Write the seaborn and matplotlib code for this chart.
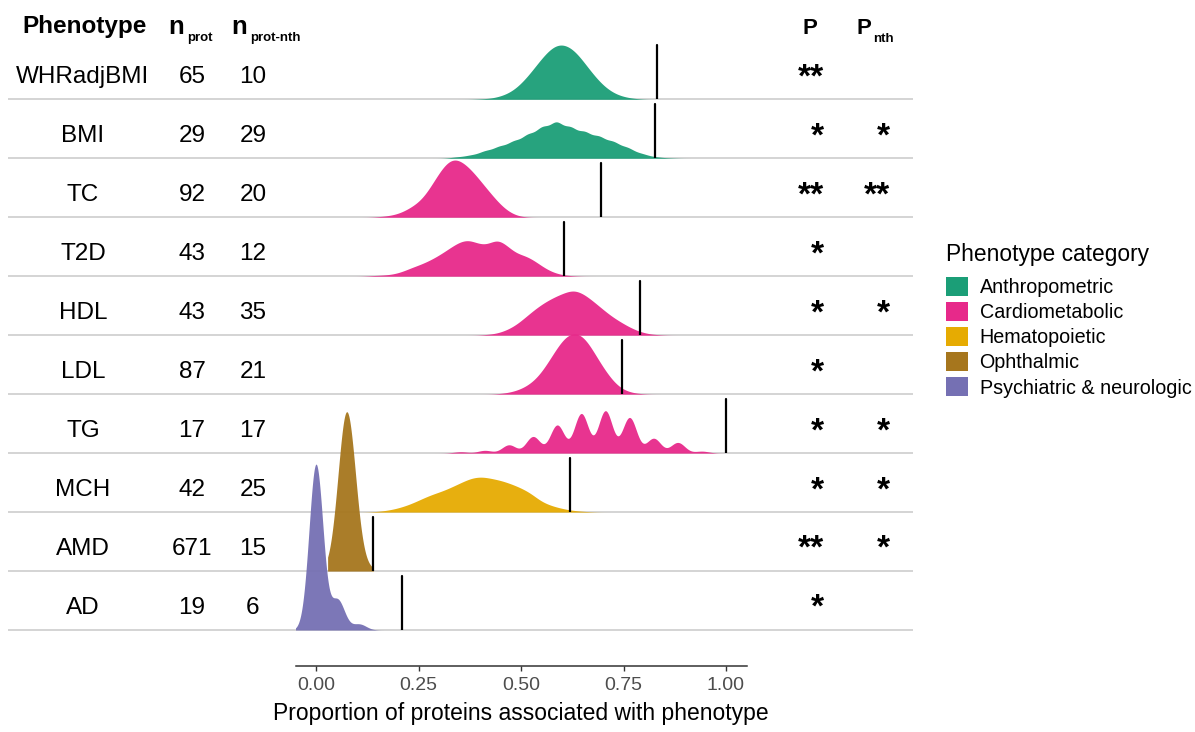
import numpy as np
import pandas as pd
import matplotlib
matplotlib.use("Agg")
import matplotlib.pyplot as plt
from matplotlib.patches import Patch
import seaborn as sns

# ---- table columns -------------------------------------------------------
phenotypes = ["WHRadjBMI", "BMI", "TC", "T2D", "HDL", "LDL", "TG", "MCH", "AMD", "AD"]
phenotype_category = ["Anthropometric", "Anthropometric",
                      "Cardiometabolic", "Cardiometabolic", "Cardiometabolic",
                      "Cardiometabolic", "Cardiometabolic",
                      "Hematopoietic", "Ophthalmic", "Psychiatric & neurologic"]
n_prot = [65, 29, 92, 43, 43, 87, 17, 42, 671, 19]
n_prot_nth = [10, 29, 20, 12, 35, 21, 17, 25, 15, 6]
# proteins associated with the phenotype (observed)
n_prot_associated = [54, 24, 64, 26, 34, 65, 17, 26, 94, 4]
p_stars = ["**", "*", "**", "*", "*", "*", "*", "*", "**", "*"]
p_nth_stars = ["", "*", "**", "", "*", "", "*", "*", "*", ""]

categories = ["Anthropometric", "Cardiometabolic", "Hematopoietic",
              "Ophthalmic", "Psychiatric & neurologic"]
category_colors = ["#1B9E77", "#E7298A", "#E6AB02", "#A6761D", "#7570B3"]

# ---- permutation nulls: how many permutations gave k associated proteins ----
# (first k, step in k, permutation counts)
null_whradjbmi = (26, 1, [1, 1, 2, 5, 8, 14, 22, 34, 47, 62, 77, 89, 99, 100, 96,
                          88, 74, 58, 44, 30, 20, 12, 7, 4, 2, 1])
null_bmi = (10, 1, [4, 9, 21, 33, 47, 65, 85, 100, 84, 72, 60, 46, 30, 13, 4, 1])
null_tc = (14, 1, [1, 2, 2, 4, 5, 8, 12, 17, 22, 27, 34, 46, 60, 74, 88, 100, 108,
                   112, 108, 102, 94, 88, 76, 66, 56, 46, 36, 26, 18, 11, 6, 3, 1])
null_t2d = (6, 1, [2, 3, 5, 12, 24, 33, 45, 60, 78, 96, 104, 90, 86, 108, 86, 62,
                   58, 42, 22, 9, 3, 1])
null_hdl = (18, 1, [2, 5, 14, 28, 50, 72, 90, 104, 115, 125, 114, 94, 72, 51, 35,
                    20, 9, 3, 1])
null_ldl = (39, 1, [1, 2, 3, 5, 8, 11, 16, 22, 30, 40, 54, 68, 81, 96, 106, 111,
                    112, 110, 104, 90, 75, 60, 47, 34, 23, 14, 8, 5, 3, 1, 1])
null_tg = (6, 1, [7, 14, 42, 84, 142, 200, 214, 180, 75, 54, 10])
null_mch = (6, 1, [1, 4, 9, 17, 28, 42, 54, 63, 76, 90, 103, 106, 100, 94, 84, 72,
                   57, 32, 20, 12, 6, 3, 1])
null_amd = (19, 5, [1, 2, 6, 30, 88, 156, 198, 182, 120, 58, 20, 6, 4, 3, 2, 2])
null_ad = (0, 1, [880, 160, 32])
null_tables = [null_whradjbmi, null_bmi, null_tc, null_t2d, null_hdl,
               null_ldl, null_tg, null_mch, null_amd, null_ad]
# how far (in bandwidths) each density runs past its data
tail_cut = [3, 3, 3, 3, 3, 3, 3, 3, 0, 3]

records = []
for name, n, (k0, step, counts) in zip(phenotypes, n_prot, null_tables):
    for j, c in enumerate(counts):
        records.append({"phenotype": name,
                        "proportion": (k0 + j * step) / n,
                        "permutations": c})
null_df = pd.DataFrame(records)
color_of = dict(zip(categories, category_colors))

# ---- style ---------------------------------------------------------------
sns.set_theme(style="white")
plt.rcParams["font.family"] = ["Liberation Sans", "DejaVu Sans"]
plt.rcParams["text.color"] = "black"

FIG_W, FIG_H = 1195, 732
fig = plt.figure(figsize=(FIG_W / 100, FIG_H / 100), dpi=100)

ROW_TOP, ROW_STEP = 99.3, 58.97
baselines = [ROW_TOP + i * ROW_STEP for i in range(len(phenotypes))]
X_LO, X_HI = -0.05, 1.05
PANEL_LEFT, PANEL_RIGHT = 295.5, 746.5
RIDGE_PX = 200
PX_PER_DENSITY = 8.6
BANDWIDTH = 0.017
TICK_PX = 54

# ---- table layer (text, separators) --------------------------------------
table = fig.add_axes([0, 0, 1, 1])
table.set_xlim(0, FIG_W)
table.set_ylim(FIG_H, 0)
table.set_axis_off()
table.hlines(baselines, 8, 913, color="#d4d4d4", lw=1.4, zorder=0)

bold = dict(fontweight="bold", va="baseline", color="black")
table.text(85, 33.5, "Phenotype", ha="center", fontsize=17.5, **bold)
table.text(168, 33.5, "n", ha="left", fontsize=18.5, **bold)
table.text(187, 41, "prot", ha="left", fontsize=9.5, **bold)
table.text(231, 33.5, "n", ha="left", fontsize=18.5, **bold)
table.text(250, 41, "prot-nth", ha="left", fontsize=9.5, **bold)
table.text(810, 33.5, "P", ha="center", fontsize=16, **bold)
table.text(857, 33.5, "P", ha="left", fontsize=16, **bold)
table.text(873, 41.5, "nth", ha="left", fontsize=9.5, **bold)

body = dict(va="baseline", fontsize=17.5, color="black")
star = dict(ha="right", va="baseline", fontsize=24, fontweight="bold", color="black")
for i, base in enumerate(baselines):
    table.text(83, base - 16, phenotypes[i], ha="center", **body)
    table.text(192, base - 16, str(n_prot[i]), ha="center", **body)
    table.text(253, base - 16, str(n_prot_nth[i]), ha="center", **body)
    table.text(824, base - 13, p_stars[i], **star)
    table.text(890, base - 13, p_nth_stars[i], **star)

# ---- ridges ---------------------------------------------------------------
for i, (name, base) in enumerate(zip(phenotypes, baselines)):
    ax = fig.add_axes([PANEL_LEFT / FIG_W, (FIG_H - base) / FIG_H,
                       (PANEL_RIGHT - PANEL_LEFT) / FIG_W, RIDGE_PX / FIG_H])
    sub = null_df[null_df["phenotype"] == name]
    sd = np.sqrt(np.cov(sub["proportion"], aweights=sub["permutations"]))
    sns.kdeplot(data=sub, x="proportion", weights="permutations",
                bw_method=BANDWIDTH / sd, cut=tail_cut[i], gridsize=600,
                fill=True, color=color_of[phenotype_category[i]], alpha=0.95,
                linewidth=0, ax=ax)
    ax.axvline(n_prot_associated[i] / n_prot[i], ymin=0, ymax=TICK_PX / RIDGE_PX,
               color="black", lw=1.6)
    ax.set_xlim(X_LO, X_HI)
    ax.set_ylim(0, RIDGE_PX / PX_PER_DENSITY)
    ax.set_xlabel("")
    ax.set_ylabel("")
    ax.patch.set_alpha(0)
    ax.set_yticks([])
    for side in ("left", "right", "top", "bottom"):
        ax.spines[side].set_visible(False)
    if i < len(phenotypes) - 1:
        ax.set_xticks([])
    else:
        ax.spines["bottom"].set_visible(True)
        ax.spines["bottom"].set_position(("outward", 25.7))
        ax.spines["bottom"].set_color("#333333")
        ax.spines["bottom"].set_linewidth(1.1)
        ticks = [0, 0.25, 0.5, 0.75, 1.0]
        ax.set_xticks(ticks)
        ax.set_xticklabels([f"{t:.2f}" for t in ticks])
        ax.tick_params(axis="x", bottom=True, length=3.6, width=1.0,
                       color="#333333", labelcolor="#4D4D4D", labelsize=14, pad=4.5)
        ax.set_xlabel("Proportion of proteins associated with phenotype",
                      fontsize=16.5, color="black", labelpad=6)

# ---- legend -------------------------------------------------------------------
table.text(946, 261, "Phenotype category", ha="left", va="baseline",
           fontsize=16.4, color="black")
handles = [Patch(facecolor=c, edgecolor="none", label=l)
           for l, c in zip(categories, category_colors)]
fig.legend(handles=handles, loc="upper left",
           bbox_to_anchor=(946 / FIG_W, 1 - 277 / FIG_H), frameon=False,
           fontsize=14.2, handlelength=1.1, handleheight=1.1,
           labelspacing=0.25, handletextpad=0.6, borderpad=0, borderaxespad=0,
           labelcolor="black")

fig.savefig("out.png", dpi=100)
